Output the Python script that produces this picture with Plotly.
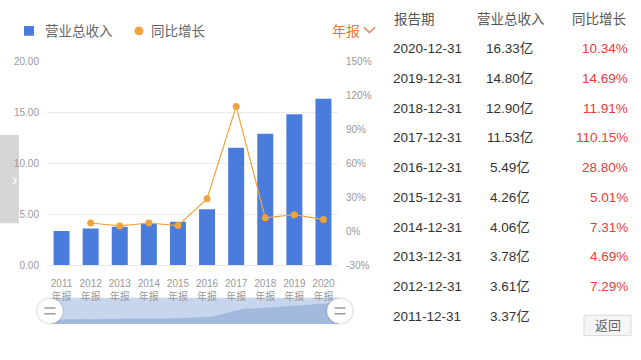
import plotly.graph_objects as go

W, H = 641, 360

years = ["2011", "2012", "2013", "2014", "2015", "2016", "2017", "2018", "2019", "2020"]
revenue = [3.37, 3.61, 3.78, 4.06, 4.26, 5.49, 11.53, 12.90, 14.80, 16.33]
growth_years = ["2012", "2013", "2014", "2015", "2016", "2017", "2018", "2019", "2020"]
growth = [7.29, 4.69, 7.31, 5.01, 28.80, 110.15, 11.91, 14.69, 10.34]
tick_text = [y + "<br>年报" for y in years]
left_ticks = [0, 5, 10, 15, 20]
right_ticks = [-30, 0, 30, 60, 90, 120, 150]
right_tick_text = [f"{v}%" for v in right_ticks]

table_dates = ["2020-12-31", "2019-12-31", "2018-12-31", "2017-12-31", "2016-12-31",
               "2015-12-31", "2014-12-31", "2013-12-31", "2012-12-31", "2011-12-31"]
table_rev = ["16.33亿", "14.80亿", "12.90亿", "11.53亿", "5.49亿",
             "4.26亿", "4.06亿", "3.78亿", "3.61亿", "3.37亿"]
table_growth = ["10.34%", "14.69%", "11.91%", "110.15%", "28.80%",
                "5.01%", "7.31%", "4.69%", "7.29%", ""]

FONT = "Helvetica, 'Liberation Sans', Arial, 'Noto Sans CJK SC', sans-serif"
BAR = "#4a7ddb"
ORANGE = "#f0a33c"
RED = "#eb3b3b"


def px(x):
    return x / W


def py(y):
    return 1 - y / H


fig = go.Figure()

fig.add_trace(go.Bar(x=years, y=revenue, marker=dict(color=BAR, line=dict(width=0)),
                     width=0.55, xaxis="x", yaxis="y", showlegend=False))
fig.add_trace(go.Scatter(x=growth_years, y=growth, mode="lines+markers",
                         line=dict(color=ORANGE, width=1.2),
                         marker=dict(color=ORANGE, size=7),
                         xaxis="x", yaxis="y2", showlegend=False))
# slider mini chart
fig.add_trace(go.Scatter(x=years, y=revenue, mode="lines", fill="tozeroy",
                         fillcolor="#a3badf", line=dict(color="#a3badf", width=0),
                         xaxis="x3", yaxis="y3", showlegend=False, hoverinfo="skip"))

shapes = []
annotations = []

# left gray tab (below)
shapes.append(dict(type="rect", xref="paper", yref="paper", x0=px(0), x1=px(19),
                   y0=py(225), y1=py(134), fillcolor="#d6d6d6", line=dict(width=0), layer="below"))
annotations.append(dict(xref="paper", yref="paper", x=px(10), y=py(180), text="›",
                        showarrow=False, font=dict(size=16, color="white", family=FONT)))

# slider background
shapes.append(dict(type="rect", xref="x3 domain", yref="y3 domain", x0=0, x1=1, y0=0, y1=1,
                   fillcolor="#c7d6ec", line=dict(width=0), layer="below"))

# handles
for cx in (50, 340):
    cy = 315.5
    r = 12.8
    shapes.append(dict(type="line", xref="paper", yref="paper", x0=px(cx), x1=px(cx),
                       y0=py(299), y1=py(332), line=dict(color="white", width=1.5)))
    shapes.append(dict(type="circle", xref="paper", yref="paper",
                       x0=px(cx - r - 1.5), x1=px(cx + r + 1.5), y0=py(cy + r + 1.5), y1=py(cy - r - 1.5),
                       fillcolor="rgba(0,0,0,0.08)", line=dict(width=0)))
    shapes.append(dict(type="circle", xref="paper", yref="paper",
                       x0=px(cx - r), x1=px(cx + r), y0=py(cy + r), y1=py(cy - r),
                       fillcolor="white", line=dict(color="#e6e6e6", width=0.8)))
    for ly in (312.5, 318.5):
        shapes.append(dict(type="line", xref="paper", yref="paper", x0=px(cx - 5.5), x1=px(cx + 5.5),
                           y0=py(ly), y1=py(ly), line=dict(color="#9a9a9a", width=1.5)))

# legend
shapes.append(dict(type="rect", xref="paper", yref="paper", x0=px(24), x1=px(34), y0=py(31.7), y1=py(21.7),
                   fillcolor=BAR, line=dict(width=0)))
shapes.append(dict(type="circle", xref="paper", yref="paper", x0=px(134.5), x1=px(143.5), y0=py(31.2), y1=py(22.2),
                   fillcolor=ORANGE, line=dict(width=0)))
annotations.append(dict(xref="paper", yref="paper", x=px(43), y=py(27), xanchor="left", yanchor="middle",
                        text="营业总收入", showarrow=False, font=dict(size=13.5, color="#666", family=FONT)))
annotations.append(dict(xref="paper", yref="paper", x=px(149), y=py(27), xanchor="left", yanchor="middle",
                        text="同比增长", showarrow=False, font=dict(size=13.5, color="#666", family=FONT)))
annotations.append(dict(xref="paper", yref="paper", x=px(330), y=py(27), xanchor="left", yanchor="middle",
                        text="年报", showarrow=False, font=dict(size=14, color="#e8763a", family=FONT)))
shapes.append(dict(type="path", xref="paper", yref="paper",
                   path=f"M {px(364)} {py(23)} L {px(369.5)} {py(28.5)} L {px(375)} {py(23)}",
                   line=dict(color="#e8763a", width=1.3)))

# table
annotations.append(dict(xref="paper", yref="paper", x=px(392), y=py(15), xanchor="left", yanchor="middle",
                        text="报告期", showarrow=False, font=dict(size=13.5, color="#555", family=FONT)))
annotations.append(dict(xref="paper", yref="paper", x=px(510.5), y=py(15), xanchor="center", yanchor="middle",
                        text="营业总收入", showarrow=False, font=dict(size=13.5, color="#555", family=FONT)))
annotations.append(dict(xref="paper", yref="paper", x=px(629), y=py(15), xanchor="right", yanchor="middle",
                        text="同比增长", showarrow=False, font=dict(size=13.5, color="#555", family=FONT)))
for i, (d, r_, g) in enumerate(zip(table_dates, table_rev, table_growth)):
    yy = 45 + i * 30.7
    annotations.append(dict(xref="paper", yref="paper", x=px(391), y=py(yy), xanchor="left", yanchor="middle",
                            text=d, showarrow=False, font=dict(size=13.5, color="#333", family=FONT)))
    annotations.append(dict(xref="paper", yref="paper", x=px(509.5), y=py(yy), xanchor="center", yanchor="middle",
                            text=r_, showarrow=False, font=dict(size=13.5, color="#333", family=FONT)))
    if g:
        annotations.append(dict(xref="paper", yref="paper", x=px(629.5), y=py(yy), xanchor="right", yanchor="middle",
                                text=g, showarrow=False, font=dict(size=13.5, color=RED, family=FONT)))

# return button
shapes.append(dict(type="rect", xref="paper", yref="paper", x0=px(584), x1=px(631), y0=py(341), y1=py(320),
                   fillcolor="#f5f5f5", line=dict(color="#d9d9d9", width=1)))
annotations.append(dict(xref="paper", yref="paper", x=px(607.5), y=py(330.5), xanchor="center", yanchor="middle",
                        text="返回", showarrow=False, font=dict(size=13, color="#666", family=FONT)))

fig.update_layout(
    width=W, height=H, autosize=False,
    margin=dict(l=0, r=0, t=0, b=0),
    paper_bgcolor="white", plot_bgcolor="rgba(0,0,0,0)",
    font=dict(family=FONT, color="#999"),
    bargap=0.45,
    xaxis=dict(domain=[px(47), px(338)], type="category", categoryorder="array", categoryarray=years,
               tickvals=years, ticktext=tick_text, showgrid=False, showline=True, linecolor="#e8e8e8",
               linewidth=1, ticks="", ticklabelstandoff=9, tickfont=dict(size=10, color="#999"), anchor="y",
               range=[-0.5, 9.5], fixedrange=True),
    yaxis=dict(domain=[py(268.5), py(58)], range=[0, 20], tickvals=left_ticks, tickformat=".2f",
               showgrid=True, gridcolor="#ececec", gridwidth=1, zeroline=False, showline=False,
               ticks="", ticklabelstandoff=7, tickfont=dict(size=10, color="#999")),
    yaxis2=dict(overlaying="y", side="right", range=[-30, 150], tickvals=right_ticks, ticktext=right_tick_text,
                showgrid=False, zeroline=False, showline=False, ticks="", ticklabelstandoff=7,
                tickfont=dict(size=10, color="#999"), anchor="x"),
    xaxis3=dict(domain=[px(50), px(340)], type="category", range=[0, 9], visible=False, anchor="y3"),
    yaxis3=dict(domain=[py(329), py(302)], range=[0, 20], visible=False, anchor="x3"),
    shapes=shapes,
    annotations=annotations,
)

fig.write_html("out.html")
